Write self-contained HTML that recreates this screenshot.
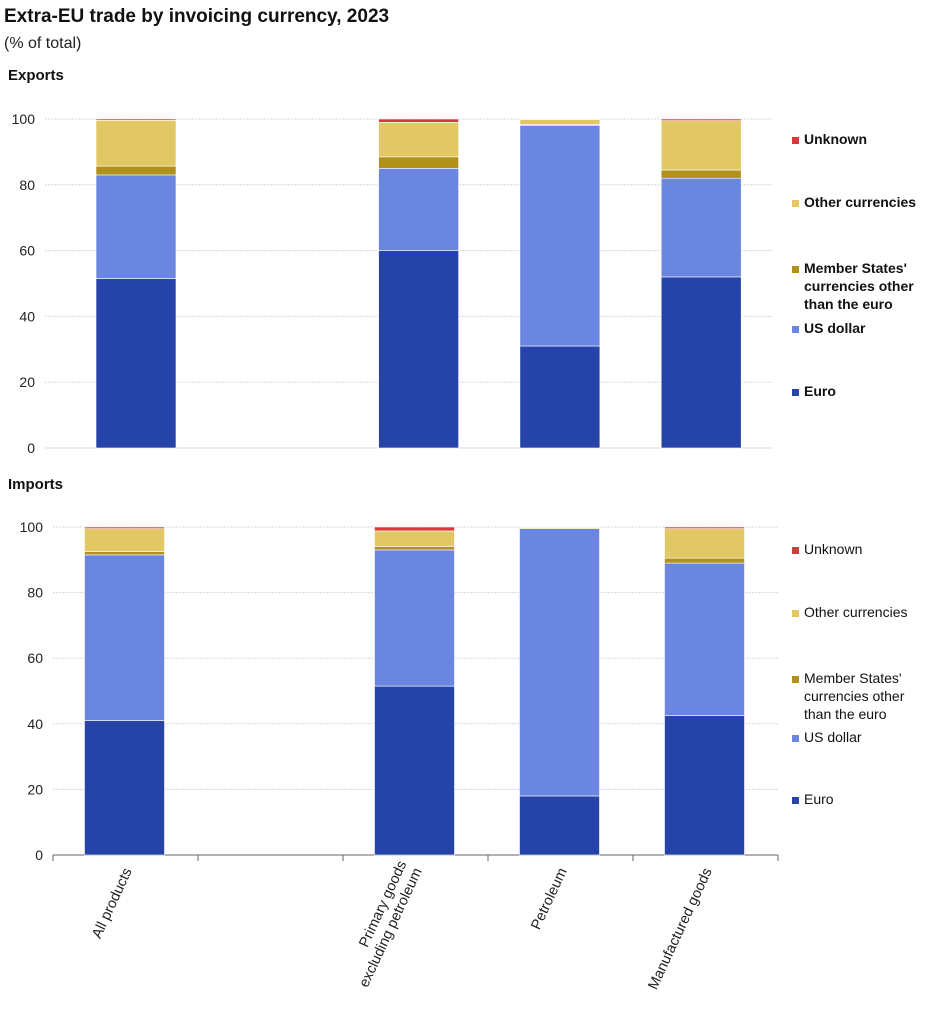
<!DOCTYPE html>
<html><head><meta charset="utf-8"><style>
body{margin:0;background:#fff;font-family:"Liberation Sans",Arial,sans-serif;}
svg{display:block}
</style></head><body>
<svg id="c" width="934" height="1012" xmlns="http://www.w3.org/2000/svg">
<text x="4" y="22" font-size="19" font-weight="bold" fill="#111">Extra-EU trade by invoicing currency, 2023</text>
<text x="4" y="48" font-size="16" fill="#222">(% of total)</text>
<text x="8" y="80" font-size="15" font-weight="bold" fill="#111">Exports</text>
<text x="8" y="489" font-size="15" font-weight="bold" fill="#111">Imports</text>
</svg>
<script>
const categories = ["All products", "", "Primary goods\nexcluding petroleum", "Petroleum", "Manufactured goods"];
const seriesNames = ["Euro", "US dollar", "Member States' currencies other than the euro", "Other currencies", "Unknown"];
const colors = ["#2644a8", "#6a86e0", "#b0921a", "#e2c865", "#d9373b"];
const yTicks = [0, 20, 40, 60, 80, 100];
const expEuro = [51.5, null, 60, 31, 52];
const expUsd = [31.5, null, 25, 67, 30];
const expMs = [2.7, null, 3.5, 0.3, 2.5];
const expOther = [13.9, null, 10.5, 1.5, 15];
const expUnknown = [0.4, null, 1, 0.2, 0.5];
const impEuro = [41, null, 51.5, 18, 42.5];
const impUsd = [50.5, null, 41.5, 81.5, 46.5];
const impMs = [1, null, 1, 0, 1.5];
const impOther = [7, null, 4.8, 0.3, 9];
const impUnknown = [0.5, null, 1.2, 0.2, 0.5];

const svg = document.getElementById('c');
const NS = "http://www.w3.org/2000/svg";
function mk(tag, attrs){const e=document.createElementNS(NS,tag);for(const k in attrs)e.setAttribute(k,attrs[k]);svg.appendChild(e);return e;}

function panel(p){
  const y = v => p.y0 - v/100*(p.y0-p.y100);
  const x = i => p.xc0 + i*p.step;
  yTicks.forEach(t=>{
    const g = mk('line',{x1:p.gx0,x2:p.gx1,y1:y(t),y2:y(t),stroke:t===0&&p.axis?'#666':'#d8d8d8','stroke-width':1,'stroke-dasharray':t===0?'':'2,1'});
    
    
    const tl = mk('text',{x:p.gx0-10,y:y(t)+5,'text-anchor':'end','font-size':14,fill:'#222'});
    tl.textContent=t;
    
    
  });
  const series=[p.euro,p.usd,p.ms,p.other,p.unk];
  categories.forEach((c,i)=>{
    if(series[0][i]===null) return;
    let base=0;
    series.forEach((s,k)=>{
      const v=s[i]; if(!v){return;}
      const r=mk('rect',{x:x(i)-40,width:80,y:y(base+v),height:Math.max(0,y(base)-y(base+v)),fill:colors[k],stroke:'#fff','stroke-width':0.6});
      
      
      base+=v;
    });
  });
  const lg=[{t:["Unknown"],y:p.legY[0],c:4},{t:["Other currencies"],y:p.legY[1],c:3},{t:["Member States'","currencies other","than the euro"],y:p.legY[2],c:2},{t:["US dollar"],y:p.legY[3],c:1},{t:["Euro"],y:p.legY[4],c:0}];
  lg.forEach(l=>{
    const r=mk('rect',{x:p.legX,y:l.y-6,width:7,height:7,fill:colors[l.c]});
    
    
    l.t.forEach((s,j)=>{
      const t=mk('text',{x:p.legX+12,y:l.y+1+j*18,'font-size':14,'font-weight':p.bold?'bold':'normal',fill:'#111'});
      t.textContent=s;
      
      
    });
  });
  if(p.axis){
    for(let i=0;i<=categories.length;i++){
      const tx=p.gx0+i*(p.gx1-p.gx0)/categories.length;
      const tk=mk('line',{x1:tx,x2:tx,y1:p.y0,y2:p.y0+6,stroke:'#666'});
      
      
    }
    categories.forEach((c,i)=>{
      if(!c) return;
      const lines=c.split('\n');
      const cx=x(i)+4, cy=p.y0+14;
      const t=mk('text',{transform:`translate(${cx},${cy}) rotate(-65)`,'text-anchor':'end','font-size':14.5,fill:'#222'});
      lines.forEach((s,j)=>{
        const ts=document.createElementNS(NS,'tspan');
        ts.setAttribute('x',0);ts.setAttribute('dy',j===0?-(lines.length-1)*17+4:17);
        ts.textContent=s;t.appendChild(ts);
      });
      
      
    });
  }
}
panel({id:'exports',y0:448,y100:119,xc0:136,step:141.3,gx0:45,gx1:772,euro:expEuro,usd:expUsd,ms:expMs,other:expOther,unk:expUnknown,legX:792,legY:[143,206,272,332,395],bold:true,axis:false});
panel({id:'imports',y0:855,y100:527,xc0:124.5,step:145,gx0:53,gx1:778,euro:impEuro,usd:impUsd,ms:impMs,other:impOther,unk:impUnknown,legX:792,legY:[553,616,682,741,803],bold:false,axis:true});
</script>
</body></html>
